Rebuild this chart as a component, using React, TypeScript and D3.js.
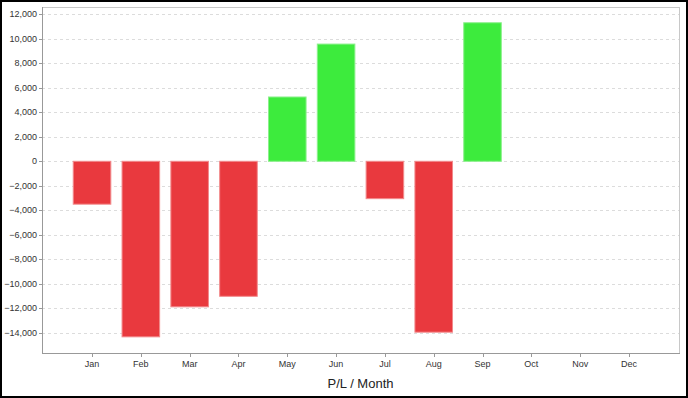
import React from "react";
import * as d3 from "d3";

const months = ["Jan", "Feb", "Mar", "Apr", "May", "Jun", "Jul", "Aug", "Sep", "Oct", "Nov", "Dec"];
const profitLoss: (number | null)[] = [-3500, -14330, -11880, -11020, 5250, 9570, -3050, -13950, 11310, null, null, null];
const yTicks = [12000, 10000, 8000, 6000, 4000, 2000, 0, -2000, -4000, -6000, -8000, -10000, -12000, -14000];
const xTitle = "P/L / Month";

const W = 688;
const H = 398;
const left = 42;
const right = 679;
const top = 7;
const bottom = 353;

export default function App() {
  const x = d3.scaleBand<string>().domain(months).range([left, right]).paddingInner(0.23).paddingOuter(0.64);
  // y: 0 at 161.3, 12.25px per 1000
  const y = d3.scaleLinear().domain([0, 12000]).range([161.3, 161.3 - 147]);
  const fmt = d3.format(",");
  const font = "'Liberation Sans', Arial, sans-serif";

  return (
    <svg width={W} height={H} style={{ position: "absolute", left: 0, top: 0, background: "#fff" }} fontFamily={font}>
      <rect x={1} y={1} width={W - 2} height={H - 2} fill="#fff" stroke="#000" strokeWidth={2} />
      {/* grid */}
      {yTicks.map((t) => (
        <line key={"g" + t} x1={left} x2={right} y1={Math.round(y(t)) + 0.5} y2={Math.round(y(t)) + 0.5}
          stroke="#dcdcdc" strokeDasharray="3,3" />
      ))}
      {/* plot frame top/right */}
      <line x1={left} x2={right + 0.5} y1={top + 0.5} y2={top + 0.5} stroke="#c8c8c8" />
      <line x1={right + 0.5} x2={right + 0.5} y1={top} y2={bottom} stroke="#c8c8c8" />
      {/* bars */}
      {months.map((m, i) => {
        const v = profitLoss[i];
        if (v == null) return null;
        const y0 = y(0);
        const y1 = y(v);
        const pos = v >= 0;
        return (
          <rect key={m} x={x(m)!} width={x.bandwidth()} y={Math.min(y0, y1)} height={Math.abs(y1 - y0)}
            fill={pos ? "#3deb3d" : "#e9393e"} stroke={pos ? "#8cf08c" : "#f28a8c"} strokeWidth={1} />
        );
      })}
      {/* axes */}
      <line x1={left + 0.5} x2={left + 0.5} y1={top} y2={bottom} stroke="#999" />
      <line x1={left} x2={right + 1} y1={bottom + 0.5} y2={bottom + 0.5} stroke="#999" />
      {yTicks.map((t) => (
        <g key={"t" + t}>
          <line x1={left - 3} x2={left} y1={Math.round(y(t)) + 0.5} y2={Math.round(y(t)) + 0.5} stroke="#999" />
          <text x={left - 5} y={y(t)} dy="0.35em" textAnchor="end" fontSize={9} fill="#333">{fmt(t)}</text>
        </g>
      ))}
      {months.map((m) => {
        const cx = x(m)! + x.bandwidth() / 2;
        return (
          <g key={"x" + m}>
            <line x1={Math.round(cx) + 0.5} x2={Math.round(cx) + 0.5} y1={bottom} y2={bottom + 4} stroke="#999" />
            <text x={cx} y={bottom + 11} dy="0.35em" textAnchor="middle" fontSize={9} fill="#333">{m}</text>
          </g>
        );
      })}
      <text x={(left + right) / 2} y={383} dy="0.35em" textAnchor="middle" fontSize={13} fill="#222">{xTitle}</text>
    </svg>
  );
}
